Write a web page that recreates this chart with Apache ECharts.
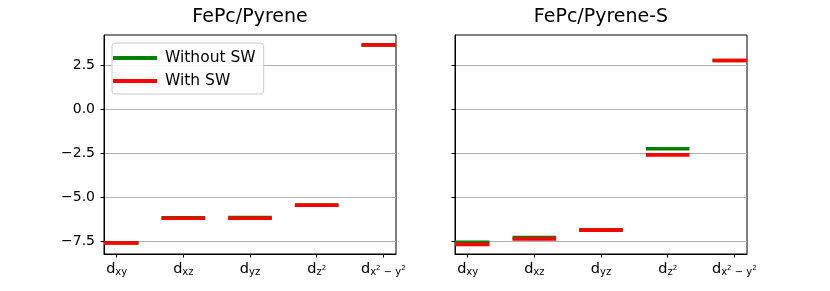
<!DOCTYPE html>
<html>
<head>
<meta charset="utf-8">
<script src="https://cdn.jsdelivr.net/npm/echarts@6/dist/echarts.min.js"></script>
<style>
  html, body { margin: 0; padding: 0; background: #fff; }
  #chart { width: 830px; height: 291px; }
</style>
</head>
<body>
<div id="chart"></div>
<script>
// ---- data ----
const categories = ['d_{xy}', 'd_{xz}', 'd_{yz}', 'd_{z^2}', 'd_{x^2 − y^2}'];
const panelTitles = ['FePc/Pyrene', 'FePc/Pyrene-S'];
const seriesNames = ['Without SW', 'With SW'];
const pyreneWithout = [-7.60, -6.18, -6.17, -5.46, 3.66];
const pyreneWith = [-7.61, -6.21, -6.21, -5.47, 3.65];
const pyreneSWithout = [-7.58, -7.31, -6.87, -2.25, 2.77];
const pyreneSWith = [-7.69, -7.38, -6.88, -2.60, 2.77];
const yTicks = [-7.5, -5.0, -2.5, 0.0, 2.5];
const xTicks = [0, 1, 2, 3, 4];

// ---- helpers ----
function toRich(label) {
  const m = label.match(/^(\w)_\{(.*)\}$/);
  if (!m) return label;
  let out = '{d|' + m[1] + '}';
  const parts = m[2].split(/\^(\d)/);
  parts.forEach((p, i) => {
    if (p === '') return;
    out += (i % 2 === 1) ? '{p|' + p + '}' : '{s|' + p + '}';
  });
  return out;
}
function fmtY(v) {
  return v.toFixed(1).replace('-', '\u2212');
}
const HALF = 0.3;
function makeRender(color) {
  return function (params, api) {
    const x = api.value(0), y = api.value(1);
    const cs = params.coordSys;
    const p1 = api.coord([x - HALF, y]);
    const p2 = api.coord([x + HALF, y]);
    const lw = 3.6;
    let x1 = Math.max(p1[0] - lw / 2, cs.x);
    let x2 = Math.min(p2[0] + lw / 2, cs.x + cs.width);
    return {
      type: 'line',
      shape: { x1: x1, y1: p1[1], x2: x2, y2: p2[1] },
      style: { stroke: color, lineWidth: lw, lineCap: 'butt' }
    };
  };
}
const GREEN = '#008000', RED = '#ff0000';
const font = 'DejaVu Sans';

const grids = [
  { left: 104, top: 35, width: 292, height: 219 },
  { left: 455, top: 35, width: 292, height: 219 }
];

function xAxis(gi) {
  return {
    type: 'value', gridIndex: gi, min: -0.19, max: 4.19,
    splitLine: { show: false },
    axisLine: { show: true, onZero: false, lineStyle: { color: '#000', width: 1 } },
    axisTick: { show: true, customValues: xTicks, length: 3.5, lineStyle: { color: '#000', width: 1 } },
    axisLabel: {
      show: true, customValues: xTicks, margin: 8, color: '#000',
      formatter: function (v) { return toRich(categories[Math.round(v)]); },
      rich: {
        d: { fontFamily: font, fontSize: 14.5, lineHeight: 16, verticalAlign: 'top', color: '#000' },
        s: { fontFamily: font, fontSize: 10, lineHeight: 10, verticalAlign: 'top', padding: [5, 0, 0, 0], color: '#000' },
        p: { fontFamily: font, fontSize: 7, lineHeight: 7, verticalAlign: 'top', padding: [3, 0, 0, 0], color: '#000' }
      }
    }
  };
}
function yAxis(gi, showLabels) {
  return {
    type: 'value', gridIndex: gi, min: -8.24, max: 4.22,
    splitLine: { show: true, lineStyle: { color: '#b0b0b0', width: 1 } },
    axisLine: { show: true, onZero: false, lineStyle: { color: '#000', width: 1 } },
    axisTick: { show: true, customValues: yTicks, length: 3.5, lineStyle: { color: '#000', width: 1 } },
    axisLabel: {
      show: showLabels, customValues: yTicks, margin: 9, color: '#000',
      fontFamily: font, fontSize: 14,
      formatter: fmtY
    }
  };
}
function pts(arr) { return arr.map((v, i) => [i, v]); }

const option = {
  backgroundColor: '#fff',
  animation: false,
  title: panelTitles.map((t, i) => ({
    text: t, left: grids[i].left + grids[i].width / 2, top: 8, textAlign: 'center', padding: 0,
    textStyle: { fontFamily: font, fontSize: 19, fontWeight: 'normal', color: '#000' }
  })),
  grid: grids.map(g => Object.assign({ show: true, borderColor: '#000', borderWidth: 1, backgroundColor: '#fff' }, g)),
  xAxis: [xAxis(0), xAxis(1)],
  yAxis: [yAxis(0, true), yAxis(1, false)],
  legend: {
    data: seriesNames.map((n, i) => ({ name: n, icon: 'rect', itemStyle: { color: i === 0 ? GREEN : RED } })),
    orient: 'vertical', left: 112, top: 43,
    itemWidth: 44, itemHeight: 4, itemGap: 5,
    padding: [6, 8, 4, 1],
    backgroundColor: 'rgba(255,255,255,0.9)', borderColor: '#cccccc', borderWidth: 1, borderRadius: 3,
    textStyle: { fontFamily: font, fontSize: 15.5, lineHeight: 18, color: '#000', padding: [0, 0, 0, 3] }
  },
  series: [
    { type: 'custom', name: seriesNames[0], xAxisIndex: 0, yAxisIndex: 0, itemStyle: { color: GREEN }, renderItem: makeRender(GREEN), data: pts(pyreneWithout) },
    { type: 'custom', name: seriesNames[1], xAxisIndex: 0, yAxisIndex: 0, itemStyle: { color: RED }, renderItem: makeRender(RED), data: pts(pyreneWith) },
    { type: 'custom', name: seriesNames[0], xAxisIndex: 1, yAxisIndex: 1, itemStyle: { color: GREEN }, renderItem: makeRender(GREEN), data: pts(pyreneSWithout) },
    { type: 'custom', name: seriesNames[1], xAxisIndex: 1, yAxisIndex: 1, itemStyle: { color: RED }, renderItem: makeRender(RED), data: pts(pyreneSWith) }
  ]
};

const chart = echarts.init(document.getElementById('chart'), null, { renderer: 'canvas' });
chart.setOption(option);
</script>
</body>
</html>
